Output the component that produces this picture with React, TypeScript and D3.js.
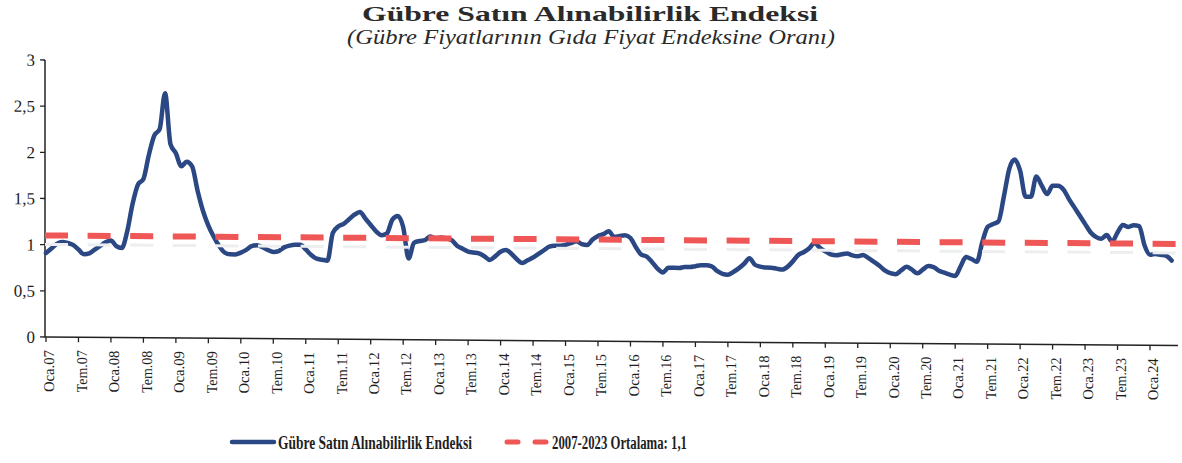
import React from "react";
import * as d3 from "d3";

// ---- Data (monthly, Oca 2007 – May 2024) ----
const v2007 = [0.91, 0.96, 1.01, 1.03, 1.02, 1.0, 0.95, 0.9, 0.91, 0.95, 0.99, 1.03];
const v2008 = [1.05, 0.99, 0.97, 1.15, 1.45, 1.66, 1.72, 1.98, 2.19, 2.26, 2.65, 2.1];
const v2009 = [2.0, 1.86, 1.91, 1.86, 1.6, 1.38, 1.22, 1.1, 1.0, 0.93, 0.91, 0.91];
const v2010 = [0.93, 0.96, 1.0, 1.01, 0.99, 0.96, 0.94, 0.95, 0.99, 1.01, 1.02, 1.02];
const v2011 = [0.97, 0.91, 0.87, 0.86, 0.85, 1.15, 1.22, 1.25, 1.3, 1.35, 1.38, 1.31];
const v2012 = [1.24, 1.17, 1.13, 1.15, 1.3, 1.34, 1.22, 0.88, 1.05, 1.07, 1.08, 1.12];
const v2013 = [1.1, 1.11, 1.1, 1.08, 1.02, 0.99, 0.96, 0.95, 0.94, 0.91, 0.87, 0.91];
const v2014 = [0.96, 0.98, 0.94, 0.88, 0.84, 0.87, 0.9, 0.94, 0.98, 1.02, 1.03, 1.03];
const v2015 = [1.04, 1.06, 1.08, 1.05, 1.04, 1.1, 1.14, 1.16, 1.19, 1.13, 1.14, 1.15];
const v2016 = [1.12, 1.02, 0.94, 0.92, 0.86, 0.79, 0.75, 0.8, 0.8, 0.8, 0.81, 0.81];
const v2017 = [0.82, 0.83, 0.83, 0.82, 0.77, 0.74, 0.73, 0.76, 0.8, 0.85, 0.91, 0.84];
const v2018 = [0.82, 0.81, 0.81, 0.8, 0.79, 0.82, 0.88, 0.95, 0.98, 1.02, 1.08, 1.03];
const v2019 = [0.99, 0.96, 0.95, 0.96, 0.97, 0.95, 0.94, 0.955, 0.92, 0.88, 0.84, 0.79];
const v2020 = [0.76, 0.75, 0.79, 0.83, 0.8, 0.76, 0.8, 0.84, 0.83, 0.79, 0.77, 0.75];
const v2021 = [0.735, 0.84, 0.94, 0.92, 0.89, 1.1, 1.27, 1.3, 1.33, 1.6, 1.9, 2.0];
const v2022 = [1.88, 1.6, 1.6, 1.82, 1.72, 1.63, 1.72, 1.72, 1.68, 1.58, 1.49, 1.4];
const v2023 = [1.31, 1.22, 1.17, 1.15, 1.19, 1.12, 1.22, 1.3, 1.28, 1.3, 1.29, 1.08];
const v2024 = [0.98, 0.99, 0.98, 0.97, 0.92];

const indexValues = [
  ...v2007, ...v2008, ...v2009, ...v2010, ...v2011, ...v2012,
  ...v2013, ...v2014, ...v2015, ...v2016, ...v2017, ...v2018,
  ...v2019, ...v2020, ...v2021, ...v2022, ...v2023, ...v2024,
];

const averageValue = 1.1;

const xTickLabels = [
  "Oca.07", "Tem.07", "Oca.08", "Tem.08", "Oca.09", "Tem.09", "Oca.10", "Tem.10",
  "Oca.11", "Tem.11", "Oca.12", "Tem.12", "Oca.13", "Tem.13", "Oca.14", "Tem.14",
  "Oca.15", "Tem.15", "Oca.16", "Tem.16", "Oca.17", "Tem.17", "Oca.18", "Tem.18",
  "Oca.19", "Tem.19", "Oca.20", "Tem.20", "Oca.21", "Tem.21", "Oca.22", "Tem.22",
  "Oca.23", "Tem.23", "Oca.24",
];

const yTicks = [0, 0.5, 1, 1.5, 2, 2.5, 3];
const yTickLabels = ["0", "0,5", "1", "1,5", "2", "2,5", "3"];

const titleText = "Gübre Satın Alınabilirlik  Endeksi";
const subtitleText = "(Gübre Fiyatlarının Gıda Fiyat Endeksine Oranı)";
const seriesName = "Gübre Satın Alınabilirlik Endeksi";
const avgName = "2007-2023 Ortalama: 1,1";

// ---- Layout ----
const W = 1182;
const H = 463;
const axisX = 45;
const axisY = 337;
const plotRight = 1178;
const serif = "'Liberation Serif', 'Times New Roman', serif";
const blue = "#2b4884";
const red = "#ef5656";

export default function App() {
  const x = d3.scaleLinear().domain([0, 204]).range([46, 1150]);
  const y = d3.scaleLinear().domain([0, 3]).range([axisY, 60]);

  const line = d3
    .line<number>()
    .x((_, i) => x(i))
    .y((d) => y(d))
    .curve(d3.curveMonotoneX);

  const tickMonths = xTickLabels.map((_, i) => i * 6);
  const skew = `translate(${axisX},${axisY}) skewY(0.43) translate(${-axisX},${-axisY})`;

  return (
    <svg width={W} height={H} style={{ position: "absolute", left: 0, top: 0, background: "#fff" }}>
      <rect x={0} y={0} width={W} height={H} fill="#fff" />
      {/* Titles */}
      <text x={590} y={21} textAnchor="middle" fontFamily={serif} fontWeight="bold" fontSize={22}
        fill="#2a2a2a" textLength={456} lengthAdjust="spacingAndGlyphs">{titleText}</text>
      <text x={591} y={44} textAnchor="middle" fontFamily={serif} fontStyle="italic" fontSize={20}
        fill="#2a2a2a" textLength={488} lengthAdjust="spacingAndGlyphs">{subtitleText}</text>

      <g transform={skew}>
        {/* Y axis */}
        <line x1={axisX} x2={axisX} y1={y(3)} y2={axisY} stroke="#222" strokeWidth={1.5} />
        {yTicks.map((t, i) => (
          <g key={t}>
            <line x1={axisX - 5} x2={axisX} y1={y(t)} y2={y(t)} stroke="#222" strokeWidth={1.3} />
            <text x={35} y={y(t)} dy="0.35em" textAnchor="end" fontFamily={serif} fontSize={17} fill="#1e1e1e">
              {yTickLabels[i]}
            </text>
          </g>
        ))}
        {/* X axis */}
        <line x1={axisX} x2={plotRight} y1={axisY} y2={axisY} stroke="#222" strokeWidth={1.5} />
        {tickMonths.map((m, i) => (
          <g key={m}>
            <line x1={x(m)} x2={x(m)} y1={axisY} y2={axisY + 5} stroke="#222" strokeWidth={1.3} />
            <text transform={`translate(${x(m) + 3},${axisY + 13}) rotate(-90)`} dy="0.35em" textAnchor="end"
              fontFamily={serif} fontSize={15} fill="#1e1e1e" textLength={42} lengthAdjust="spacingAndGlyphs">
              {xTickLabels[i]}
            </text>
          </g>
        ))}

        {/* Series line */}
        <path d={line(indexValues) || ""} fill="none" stroke={blue} strokeWidth={4.5}
          strokeLinejoin="round" strokeLinecap="round" />

        {/* Average line with faint shadow */}
        <line x1={axisX} x2={plotRight} y1={y(averageValue) + 9} y2={y(averageValue) + 9}
          stroke="#eceeef" strokeWidth={3} strokeDasharray="23 19.6" />
        <line x1={axisX} x2={plotRight} y1={y(averageValue)} y2={y(averageValue)}
          stroke={red} strokeWidth={6} strokeDasharray="23 19.6" />
      </g>

      {/* Legend */}
      <line x1={232} x2={274} y1={442} y2={442} stroke={blue} strokeWidth={4.5} strokeLinecap="round" />
      <text x={278} y={449} fontFamily={serif} fontWeight="bold" fontSize={18} fill="#1e1e1e"
        textLength={194} lengthAdjust="spacingAndGlyphs">{seriesName}</text>
      <line x1={507} x2={518} y1={442} y2={442} stroke={red} strokeWidth={5} strokeLinecap="round" />
      <line x1={535} x2={546} y1={442} y2={442} stroke={red} strokeWidth={5} strokeLinecap="round" />
      <text x={552} y={449} fontFamily={serif} fontWeight="bold" fontSize={18} fill="#1e1e1e"
        textLength={135} lengthAdjust="spacingAndGlyphs">{avgName}</text>
    </svg>
  );
}
